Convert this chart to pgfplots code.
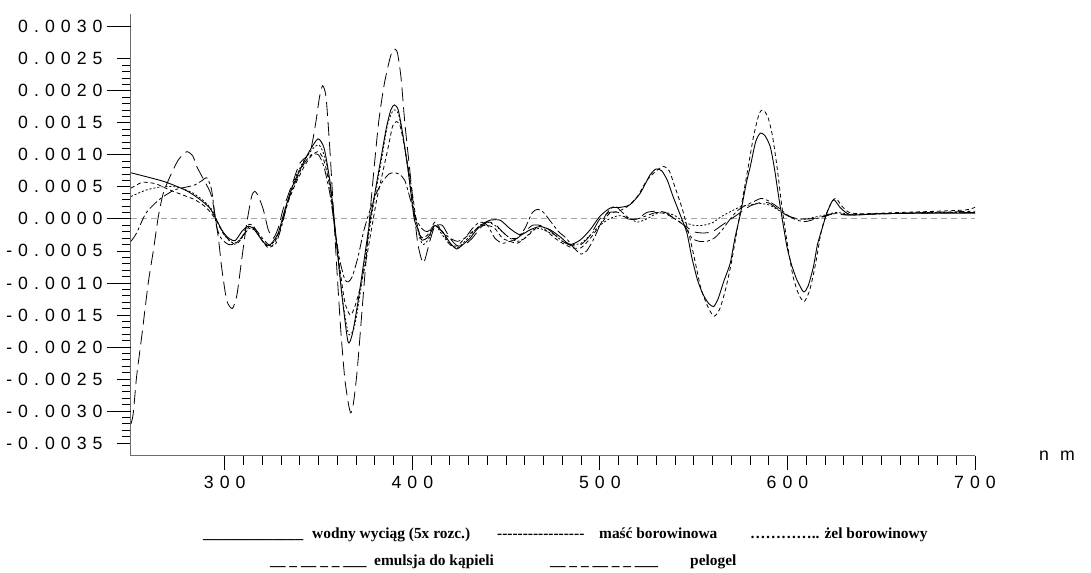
\documentclass[border=0pt]{standalone}
\usepackage{fontspec}
\usepackage{pgfplots}
\pgfplotsset{compat=1.18}
\setmainfont{Liberation Serif}
\newfontfamily\tickfont[LetterSpace=34]{Liberation Sans}
\newcommand\legtext[1]{{\fontsize{15.4bp}{17bp}\selectfont\bfseries #1}}
\newcommand\hy{-\kern0pt}

\begin{document}
\begin{tikzpicture}
\useasboundingbox (-131bp,-117.2bp) rectangle (960bp,455.8bp);
\begin{axis}[
  scale only axis,
  width=844bp, height=441.8bp,
  xmin=250, xmax=700, ymin=-0.0037, ymax=0.0032,
  scaled y ticks=false, scaled x ticks=false,
  axis x line=bottom, axis y line=left,
  axis line style={-, draw=gray!85!black, line width=1bp},
  tick style={black, line width=0.8bp},
  tick align=outside,
  major tick length=14bp, minor tick length=9bp,
  xtick={300,400,500,600,700},
  xticklabels={300,400,500,600,700},
  minor x tick num=9,
  ytick={-0.0035,-0.0025,-0.0015,-0.0005,0.0005,0.0015,0.0025},
  yticklabels={-0.0035,-0.0025,-0.0015,-0.0005,0.0005,0.0015,0.0025},
  minor y tick num=9,
  extra y ticks={-0.003,-0.002,-0.001,0,0.001,0.002,0.003},
  extra y tick labels={-0.0030,-0.0020,-0.0010,0.0000,0.0010,0.0020,0.0030},
  extra y tick style={major tick length=24bp, yticklabel style={xshift=10bp}},
  tick label style={font=\fontsize{17.7bp}{20bp}\tickfont},
  yticklabel style={xshift=-11bp},
  xticklabel style={yshift=-3bp},
  xlabel={n m},
  xlabel style={font=\fontsize{17.7bp}{20bp}\tickfont, at={(axis description cs:1,0)}, anchor=center, xshift=82bp},
  clip=false,
]
% zero line
\addplot[gray!70, line width=0.8bp, dash pattern=on 6bp off 4bp] coordinates {(250,0) (700,0)};

% wodny wyciag (solid)
\addplot[black, line width=0.9bp, smooth, tension=0.4] coordinates {
(250,0.00072) (258,0.00066) (268,0.00058) (279,0.00045) (286,0.00032) (292,0.00017) (296,-0.00004)
(299,-0.0002) (302,-0.0003) (305.5,-0.00034) (309,-0.0002) (312,-0.00012) (315,-0.00014) (319,-0.0003)
(322.5,-0.00042) (325,-0.00038) (328.5,-0.00022) (332,0.00014) (336,0.0005) (341,0.00082) (345,0.00105)
(349.7,0.00125) (353,0.0011) (356,0.0006) (358,0.0001) (360,-0.0005) (362.5,-0.0012) (365.7,-0.00192)
(368,-0.0018) (371,-0.0013) (374,-0.0007) (377,-0.0001) (380,0.0004) (383,0.0009) (386,0.0014)
(388.5,0.0017) (390.4,0.00178) (392.5,0.0017) (395,0.0013) (398,0.0007) (401,0.0) (403.2,-0.00017)
(405,-0.00033) (408.6,-0.00028) (412,-0.0001) (416.6,-0.00022) (420,-0.00037) (423.6,-0.00047)
(427,-0.0004) (430.8,-0.0003) (434,-0.00018) (438,-0.00007) (441.5,-0.00002) (446.8,-0.00002)
(452,-0.00015) (457.5,-0.00025) (462.8,-0.00017) (468,-0.00012) (473.5,-0.00017) (478.8,-0.00028)
(484,-0.0004) (489.5,-0.00033) (494.8,-0.00017) (500,0.00004) (505.5,0.00017) (510.8,0.00018)
(516,0.00022) (521.5,0.0004) (526.8,0.00069) (530,0.00078) (533,0.00075) (536,0.0006) (539,0.00035)
(543,0.00005) (546.4,-0.00022) (549,-0.0006) (552,-0.00095) (555,-0.00118) (558,-0.00132)
(560.6,-0.00137) (563,-0.00125) (566,-0.00098) (569.5,-0.00069) (572,-0.0003) (575,0.00009)
(578,0.00055) (580.2,0.00082) (583,0.0012) (585.5,0.00134) (588,0.0013) (590.8,0.00113) (593,0.0008)
(595.3,0.00035) (597.5,-0.00005) (599.7,-0.00043) (602,-0.0007) (605,-0.00095) (608.6,-0.00114)
(611,-0.00105) (613.9,-0.00074) (616,-0.0004) (618.3,-0.00017) (621,0.00009) (624.5,0.0003)
(628,0.00018) (631.6,0.00009) (635,0.00006) (650,0.00008) (670,0.00009) (700,0.00009)};

% masc borowinowa (short dashes)
\addplot[black, line width=0.8bp, smooth, tension=0.4, dash pattern=on 4bp off 3bp] coordinates {
(250,0.00048) (256,0.00057) (263,0.00055) (270,0.00046) (277,0.00038) (284,0.0003) (290,0.00018)
(295,0.0) (299,-0.00022) (303,-0.00035) (306,-0.0004) (309,-0.0003) (312,-0.0001) (315,-0.0001)
(319,-0.0003) (323,-0.00045) (326,-0.0004) (329,-0.0002) (333,0.0002) (337,0.0005) (342,0.0008)
(346,0.00098) (350,0.00105) (353,0.0009) (356,0.0005) (358,0.0) (361,-0.0007) (364,-0.0013)
(366.8,-0.0015) (369,-0.0014) (372,-0.0011) (375,-0.0007) (378,-0.0002) (381,0.0003) (384,0.0007)
(387,0.0011) (389.5,0.00145) (391.6,0.00152) (393.5,0.00145) (396,0.0011) (399,0.0006) (402,0.0)
(404,-0.00025) (406,-0.0003) (409,-0.00022) (412,-0.00005) (416,-0.0002) (420,-0.0004) (424,-0.00042)
(428,-0.0003) (432,-0.0002) (436,-0.00012) (440,-0.0001) (444,-0.00015) (448,-0.0003) (452,-0.00035)
(456,-0.00038) (460,-0.0003) (464,-0.0002) (468,-0.0001) (472,-0.0002) (476,-0.0003) (480,-0.00038)
(485,-0.00045) (490,-0.00045) (495,-0.0003) (500,-0.0001) (505,0.00008) (510,0.00012) (515,0.0002)
(520,0.00035) (525,0.0006) (530,0.00075) (534,0.00082) (537,0.00075) (540,0.0005) (544,0.00015)
(548,-0.0003) (551,-0.0007) (554,-0.0011) (558,-0.0014) (561,-0.00152) (564,-0.0014) (567,-0.0011)
(570,-0.0007) (573,-0.0002) (576,0.0003) (579,0.0008) (582,0.0013) (585,0.00165) (587,0.0017)
(589.5,0.0016) (592,0.0013) (594.5,0.0008) (597,0.0002) (600,-0.0004) (603,-0.0009) (606,-0.00118)
(609,-0.00129) (612,-0.0011) (615,-0.0007) (618,-0.0002) (621,0.0001) (624,0.00028) (626,0.00032)
(629,0.0002) (633,0.0001) (640,0.00008) (660,0.0001) (680,0.00012) (695,0.00014) (700,0.00018)};

% zel borowinowy (fine dots)
\addplot[black, line width=0.8bp, smooth, tension=0.4, dash pattern=on 2bp off 2bp] coordinates {
(250,0.00035) (258,0.00045) (266,0.0005) (274,0.0005) (282,0.00042) (288,0.0003) (293,0.00015)
(297,-0.0001) (301,-0.0003) (305,-0.00038) (309,-0.0003) (313,-0.00015) (317,-0.0002) (321,-0.00038)
(325,-0.0004) (329,-0.0002) (333,0.0002) (337,0.0006) (342,0.0009) (347,0.0011) (350.5,0.00115)
(354,0.0009) (357,0.0003) (360,-0.0005) (363,-0.0013) (366,-0.0018) (369,-0.0017) (372,-0.0012)
(375,-0.0006) (378,0.0) (381,0.0005) (384,0.001) (387,0.0015) (390,0.0017) (392.5,0.00165)
(395,0.0013) (398,0.0007) (401,0.0001) (404,-0.0003) (406,-0.0004) (409,-0.0003) (412,-0.0001)
(416,-0.00025) (420,-0.0004) (424,-0.00045) (428,-0.00035) (432,-0.00022) (436,-0.0001) (440,-0.00005)
(444,-0.0001) (448,-0.0002) (452,-0.0003) (456,-0.00035) (460,-0.0003) (464,-0.00018) (468,-0.00015)
(472,-0.0002) (476,-0.00025) (480,-0.00035) (485,-0.0004) (490,-0.00038) (495,-0.00025) (500,-0.0001)
(505,0.0) (510,0.00005) (515,0.00002) (520,-0.00005) (525,0.0) (530,0.00008) (535,0.0001) (540,0.00005)
(545,-0.00005) (550,-0.0001) (555,-0.0001) (560,-0.00006) (565,0.00004) (570,0.00012) (575,0.00019)
(580,0.00022) (585,0.00024) (590,0.00022) (595,0.00014) (600,0.00005) (605,0.0) (610,0.0) (615,0.00003)
(620,0.00006) (626,0.0001) (635,0.00007) (650,0.00008) (675,0.0001) (700,0.0001)};

% emulsja do kapieli (dash-dot)
\addplot[black, line width=0.8bp, smooth, tension=0.4, dash pattern=on 10bp off 3bp on 3bp off 3bp] coordinates {
(250,-0.00035) (253,-0.00022) (258,0.00009) (265,0.0003) (273,0.00045) (280,0.0005) (284,0.00053)
(288,0.0006) (290.5,0.00064) (293,0.00045) (295.5,-0.0001) (298,-0.0003) (302,-0.0004) (306,-0.00038)
(310,-0.00025) (313,-0.00012) (316,-0.00015) (320,-0.0003) (324,-0.00042) (327,-0.0004) (330,-0.00015)
(334,0.0003) (338,0.0006) (342,0.00085) (346,0.001) (350,0.001) (353,0.0008) (356,0.0004) (358,0.0)
(361,-0.0006) (364,-0.00095) (366,-0.00098) (368,-0.0009) (371,-0.0006) (374,-0.0002) (377,0.0001)
(380,0.00035) (384,0.00058) (387.5,0.0007) (390,0.00072) (393,0.0007) (396,0.0006) (399,0.0003)
(402,0.0) (405,-0.00015) (408,-0.0002) (412,-0.0001) (416,-0.0002) (420,-0.0003) (424,-0.00035)
(428,-0.0003) (432,-0.00015) (436,-0.00005) (440,-0.0001) (444,-0.0003) (448,-0.00038) (452,-0.00035)
(456,-0.0003) (460,-0.00015) (464,0.0001) (467,0.00015) (470,0.0001) (474,-0.00005) (478,-0.0002)
(482,-0.0003) (486,-0.00045) (490,-0.00055) (493,-0.0005) (497,-0.0003) (500,-0.0001) (504,0.0001)
(508,0.0002) (512,0.0001) (516,0.0) (520,0.0) (525,0.00005) (530,0.0001) (535,0.00008) (540,0.0)
(545,-0.0001) (549,-0.0003) (553,-0.00035) (557,-0.00035) (561,-0.0003) (565,-0.00018) (569,-0.00002)
(573,0.00012) (577,0.0002) (582,0.00027) (586,0.00032) (590,0.00028) (595,0.00018) (600,0.00006)
(605,-0.00002) (610,-0.00004) (615,0.0) (620,0.00004) (626,0.00009) (633,0.00006) (650,0.00008)
(675,0.0001) (700,0.00012)};

% pelogel (long dashes)
\addplot[black, line width=0.8bp, smooth, tension=0.4, dash pattern=on 14bp off 6bp] coordinates {
(250,-0.0032) (251.2,-0.00304) (253,-0.00246) (255.7,-0.00184) (259.2,-0.001) (262,-0.00048)
(264.6,0.00004) (267.2,0.0004) (270.8,0.00066) (275.2,0.00092) (279.7,0.00105) (283,0.00098)
(285,0.00082) (289,0.0006) (293,0.00035) (296.5,-0.00028) (298.3,-0.00075) (301,-0.00127)
(304,-0.0014) (306.4,-0.0012) (309,-0.00064) (311.7,-0.00007) (314.3,0.00035) (316,0.00043)
(318,0.00035) (320.6,0.00014) (323.2,-0.00017) (326,-0.0003) (329,-0.0001) (331,0.00014)
(336.6,0.0006) (340,0.00087) (345.5,0.00105) (348.5,0.0015) (350.5,0.0019) (352.2,0.00208)
(354,0.0019) (356,0.0011) (358,0.0001) (360,-0.0009) (362,-0.0018) (364,-0.0025) (366,-0.0029)
(367.2,-0.00303) (368.5,-0.0029) (370.5,-0.0024) (373,-0.0015) (376,-0.0004) (379,0.0006)
(382,0.0015) (385,0.0021) (388,0.0025) (389.9,0.00265) (392,0.0026) (394,0.0022) (396,0.0015)
(398.5,0.0008) (401,0.0001) (403,-0.0004) (405.9,-0.00069) (409.5,-0.00033) (412,-0.00012)
(416,-0.0001) (420,-0.0003) (424,-0.00042) (428,-0.0004) (432,-0.0003) (436,-0.00015) (440,-0.00005)
(444,-0.00008) (448,-0.0002) (452,-0.0003) (456,-0.0003) (460,-0.0002) (464,-0.0001) (468,-0.0001)
(472,-0.00015) (476,-0.00025) (480,-0.00035) (485,-0.00042) (490,-0.0004) (495,-0.00025) (500,0.0)
(505,0.0001) (510,0.0001) (515,0.0) (520,0.0) (525,0.0001) (530,0.00012) (535,0.0001) (540,0.0)
(545,-0.0001) (550,-0.0002) (555,-0.00022) (560,-0.0002) (565,-0.0001) (570,0.0) (575,0.0001)
(580,0.0002) (585,0.00025) (590,0.00025) (595,0.00015) (600,0.00005) (606,0.0) (612,0.0)
(618,0.00003) (624,0.00008) (632,0.00006) (650,0.00008) (700,0.0001)};
\end{axis}

% legend (text)
\node[anchor=base west, inner sep=0] at (72bp,-82.2bp) {\legtext{\_\_\_\_\_\_\_\_\_\_\_\_\_}};
\node[anchor=base west, inner sep=0] at (181bp,-82.2bp) {\legtext{wodny wyciąg (5x rozc.)}};
\node[anchor=base west, inner sep=0] at (366bp,-82.2bp) {\legtext{\hy\hy\hy\hy\hy\hy\hy\hy\hy\hy\hy\hy\hy\hy\hy\hy\hy}};
\node[anchor=base west, inner sep=0] at (468bp,-82.2bp) {\legtext{maść borowinowa}};
\node[anchor=base west, inner sep=0] at (619bp,-82.2bp) {\legtext{………….. żel borowinowy}};
\node[anchor=base west, inner sep=0] at (139bp,-109.2bp) {\legtext{\_\_ \_ \_\_ \_ \_ \_\_\_}};
\node[anchor=base west, inner sep=0] at (243bp,-109.2bp) {\legtext{emulsja do kąpieli}};
\node[anchor=base west, inner sep=0] at (419bp,-109.2bp) {\legtext{\_\_ \_ \_ \_\_ \_ \_ \_\_\_}};
\node[anchor=base west, inner sep=0] at (559bp,-109.2bp) {\legtext{pelogel}};
\end{tikzpicture}
\end{document}
